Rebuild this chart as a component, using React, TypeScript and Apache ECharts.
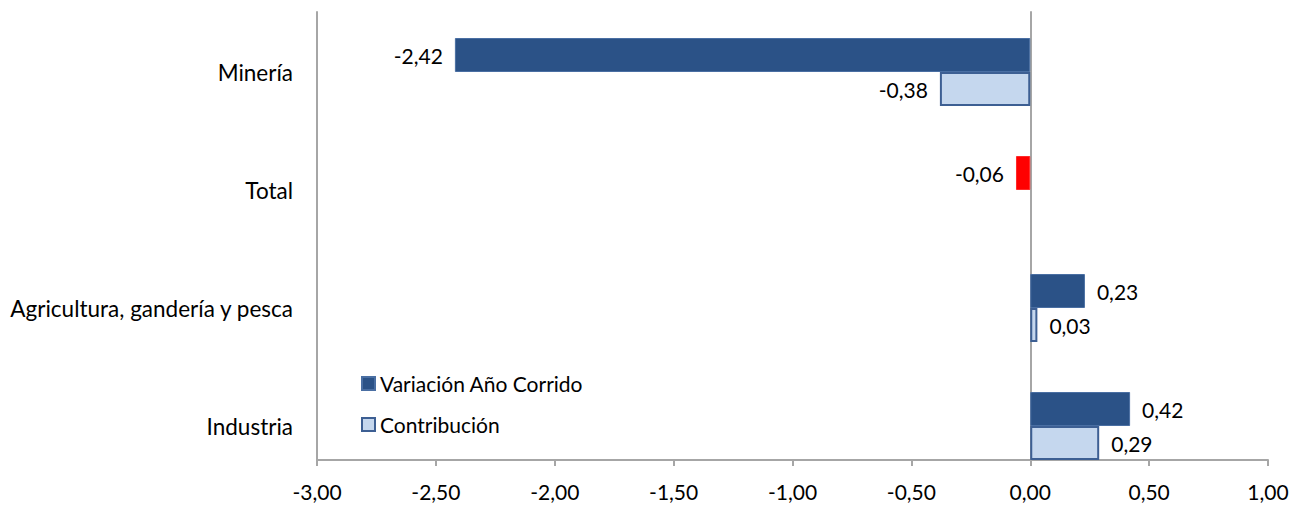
import React, { useEffect, useRef } from "react";
import * as echarts from "echarts";

const categories = ["Industria", "Agricultura, gandería y pesca", "Total", "Minería"];
const variacion = [0.42, 0.23, -0.06, -2.42];
const contribucion: (number | null)[] = [0.29, 0.03, null, -0.38];
const highlightCategory = "Total";
const X_MIN = -3;
const X_MAX = 1;
const X_STEP = 0.5;

const fmt = (v: number) => v.toFixed(2).replace(".", ",");
const FONT = "Lato";
const AXIS_GREY = "#a6a6a6";

export default function App() {
  const ref = useRef<HTMLDivElement>(null);
  useEffect(() => {
    if (!ref.current) return;
    const chart = echarts.init(ref.current, undefined, { renderer: "svg" });
    const labelFor = (v: number | null) => ({
      position: v !== null && v < 0 ? "left" : "right",
    });
    const darkData = variacion.map((v, i) => ({
      value: v,
      itemStyle:
        categories[i] === highlightCategory
          ? { color: "#ff0000", borderColor: "#ff2a2a" }
          : undefined,
      label: labelFor(v),
    }));
    const lightData = contribucion.map((v) =>
      v === null ? { value: null } : { value: v, label: labelFor(v) }
    );
    const labelCommon = {
      show: true,
      distance: 12,
      fontFamily: FONT,
      fontSize: 21,
      color: "#000",
      formatter: (p: any) => fmt(p.value),
    };
    chart.setOption({
      animation: false,
      textStyle: { fontFamily: FONT },
      grid: [
        { left: 317, right: 24, top: 13, bottom: 42 },
        { left: 317, right: 24, top: 12, bottom: 67 },
      ],
      legend: {
        orient: "vertical",
        left: 356,
        top: 368,
        itemWidth: 13,
        itemHeight: 13,
        itemGap: 20,
        icon: "rect",
        textStyle: { fontFamily: FONT, fontSize: 21, color: "#000" },
        data: ["Variación Año Corrido", "Contribución"],
      },
      xAxis: [
        {
          gridIndex: 0,
          type: "value",
          min: X_MIN,
          max: X_MAX,
          show: false,
        },
        {
          gridIndex: 1,
          type: "value",
          min: X_MIN,
          max: X_MAX,
          interval: X_STEP,
          axisLine: { show: true, onZero: false, lineStyle: { color: AXIS_GREY, width: 2 } },
          axisTick: { show: true, length: 6, lineStyle: { color: AXIS_GREY, width: 2 } },
          axisLabel: {
            fontFamily: FONT,
            fontSize: 21,
            color: "#000",
            margin: 21,
            formatter: (v: number) => fmt(v),
          },
          splitLine: { show: false },
        },
      ],
      yAxis: [
        {
          gridIndex: 0,
          type: "category",
          data: categories,
          axisLine: { show: false },
          axisTick: { show: false },
          splitLine: { show: false },
          axisLabel: {
            fontFamily: FONT,
            fontSize: 22.5,
            color: "#000",
            margin: 24,
          },
        },
        {
          gridIndex: 1,
          type: "value",
          min: 0,
          max: 1,
          axisLine: { show: true, onZero: false, lineStyle: { color: AXIS_GREY, width: 2 } },
          axisTick: { show: false },
          axisLabel: { show: false },
          splitLine: { show: false },
        },
        {
          gridIndex: 1,
          type: "value",
          position: "left",
          min: 0,
          max: 1,
          axisLine: { show: true, onZero: true, lineStyle: { color: AXIS_GREY, width: 2 } },
          axisTick: { show: false },
          axisLabel: { show: false },
          splitLine: { show: false },
        },
      ],
      series: [
        {
          name: "Variación Año Corrido",
          type: "bar",
          xAxisIndex: 0,
          yAxisIndex: 0,
          barWidth: 34,
          barGap: "0%",
          itemStyle: { color: "#2b5287", borderColor: "#4a6fa3", borderWidth: 1 },
          label: labelCommon,
          data: darkData,
        },
        {
          name: "Contribución",
          type: "bar",
          xAxisIndex: 0,
          yAxisIndex: 0,
          barWidth: 34,
          barGap: "0%",
          itemStyle: { color: "#c5d7ee", borderColor: "#3d5f93", borderWidth: 2 },
          label: labelCommon,
          data: lightData,
        },
      ],
    });
    return () => chart.dispose();
  }, []);
  return (
    <div
      ref={ref}
      style={{ position: "absolute", left: 0, top: 0, width: 1292, height: 527, background: "#fff" }}
    />
  );
}
